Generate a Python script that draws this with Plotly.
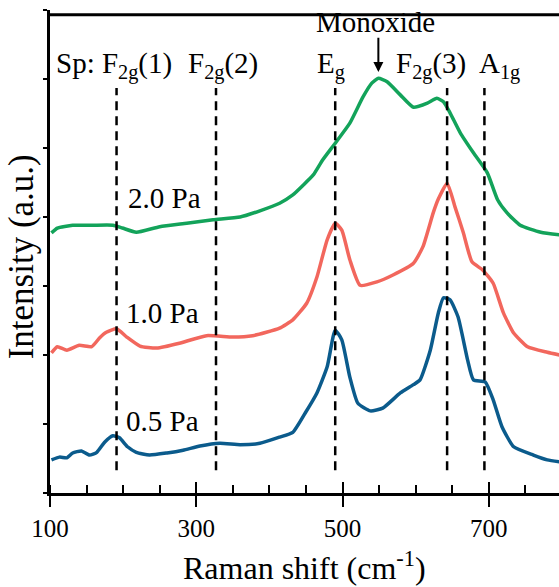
import plotly.graph_objects as go

# Raman spectra of films deposited at three pressures (offset for clarity)
x_05 = [102, 113, 123, 131, 143, 154, 164, 175, 186, 195, 206, 218, 236, 260, 282, 305, 332, 360,
        387, 414, 432, 449, 465, 479, 490, 499, 510, 521, 538, 555, 579, 597, 606, 620, 631, 638,
        647, 658, 671, 679, 695, 706, 718, 734, 761, 780, 797]
y_05 = [0.48, 0.52, 0.51, 0.58, 0.61, 0.55, 0.59, 0.74, 0.83, 0.80, 0.67, 0.59, 0.55, 0.58, 0.62,
        0.68, 0.72, 0.70, 0.72, 0.81, 0.88, 1.16, 1.45, 1.83, 2.36, 2.22, 1.68, 1.30, 1.19, 1.23,
        1.45, 1.57, 1.64, 2.07, 2.61, 2.83, 2.80, 2.55, 1.93, 1.64, 1.61, 1.35, 0.96, 0.67, 0.55,
        0.48, 0.45]

x_10 = [102, 110, 123, 140, 157, 168, 177, 191, 205, 223, 246, 277, 314, 350, 377, 414, 432, 451,
        465, 479, 490, 499, 510, 524, 547, 569, 597, 610, 624, 631, 643, 654, 665, 677, 692, 706,
        720, 734, 753, 780, 797]
y_10 = [2.03, 2.12, 2.07, 2.14, 2.12, 2.25, 2.33, 2.38, 2.26, 2.13, 2.10, 2.17, 2.28, 2.26, 2.28,
        2.39, 2.51, 2.75, 3.13, 3.67, 3.91, 3.81, 3.38, 3.01, 3.06, 3.16, 3.33, 3.57, 4.06, 4.26,
        4.49, 4.14, 3.78, 3.35, 3.23, 3.04, 2.61, 2.32, 2.12, 2.04, 2.00]

x_20 = [102, 110, 131, 158, 186, 199, 218, 250, 287, 323, 360, 387, 414, 432, 446, 460, 473, 490,
        510, 528, 540, 549, 561, 579, 597, 616, 629, 638, 647, 661, 679, 698, 712, 725, 743, 771, 797]
y_20 = [3.77, 3.84, 3.88, 3.88, 3.88, 3.84, 3.78, 3.86, 3.91, 3.96, 4.00, 4.09, 4.20, 4.32, 4.46,
        4.61, 4.83, 5.07, 5.36, 5.74, 5.94, 6.01, 5.96, 5.77, 5.59, 5.65, 5.72, 5.67, 5.51, 5.22,
        4.93, 4.64, 4.25, 4.06, 3.88, 3.78, 3.74]

series_names = ["0.5 Pa", "1.0 Pa", "2.0 Pa"]
series_colors = ["#0b5b8c", "#f2675d", "#13a35a"]
label_pos = [(254, 1.04), (254, 2.61), (257, 4.28)]

# Spinel mode positions and labels
mode_x = [191, 327, 490, 643, 694]
mode_labels = ["Sp: F<sub>2g</sub>(1)", "F<sub>2g</sub>(2)", "E<sub>g</sub>",
               "F<sub>2g</sub>(3)", "A<sub>1g</sub>"]
mode_label_x = [105, 336, 484, 621, 714]
monoxide_x = 549

X_RANGE = [100, 796]
Y_RANGE = [0, 7]

SERIF = "Liberation Serif, Times New Roman, serif"

fig = go.Figure()

for xs, ys, name, col in zip([x_05, x_10, x_20], [y_05, y_10, y_20], series_names, series_colors):
    fig.add_trace(go.Scatter(x=xs, y=ys, mode="lines", name=name,
                             line=dict(color=col, width=3.5, shape="spline", smoothing=0.5),
                             showlegend=False, hoverinfo="skip"))

# dashed reference lines at the mode positions
for mx in mode_x:
    fig.add_shape(type="line", x0=mx, x1=mx, y0=0.33, y1=5.87, xref="x", yref="y",
                  line=dict(color="black", width=2.5, dash="9px,6px"))

# top frame line
fig.add_shape(type="line", x0=0, x1=1, y0=0.99, y1=0.99, xref="paper", yref="paper",
              layer="above", line=dict(color="black", width=3))

for i, (txt, lx) in enumerate(zip(mode_labels, mode_label_x)):
    fig.add_annotation(x=lx, y=6.2, text=txt, showarrow=False, xref="x", yref="y",
                       xanchor="left" if i == 0 else "center", yanchor="middle",
                       font=dict(family=SERIF, size=29, color="black"))

for (lx, ly), name in zip(label_pos, series_names):
    fig.add_annotation(x=lx, y=ly, text=name, showarrow=False, xref="x", yref="y",
                       font=dict(family=SERIF, size=29, color="black"))

fig.add_annotation(x=monoxide_x, y=6.1, ax=monoxide_x, ay=6.62, xref="x", yref="y",
                   axref="x", ayref="y", text="", showarrow=True, arrowhead=2,
                   arrowsize=1, arrowwidth=2, arrowcolor="black")
fig.add_annotation(x=monoxide_x - 4, y=6.83, text="Monoxide", showarrow=False, xref="x", yref="y",
                   font=dict(family=SERIF, size=29, color="black"))

# axis titles
fig.add_annotation(x=0.5, y=-0.152, xref="paper", yref="paper", showarrow=False,
                   text="Raman shift (cm<sup>-1</sup>)", yanchor="middle",
                   font=dict(family=SERIF, size=32, color="black"))
fig.add_annotation(x=-0.057, y=0.49, xref="paper", yref="paper", showarrow=False,
                   text="Intensity (a.u.)", textangle=-90, xanchor="center",
                   font=dict(family=SERIF, size=35, color="black"))

fig.update_layout(
    width=559, height=587,
    margin=dict(l=50, r=0, t=10, b=94),
    paper_bgcolor="white", plot_bgcolor="white",
    xaxis=dict(range=X_RANGE, tickvals=[100, 300, 500, 700], ticks="outside", ticklen=11,
               tickwidth=2, tickcolor="black", showline=True, linewidth=3, linecolor="black",
               showgrid=False, zeroline=False,
               tickfont=dict(family=SERIF, size=25, color="black"),
               minor=dict(dtick=50, tick0=100, ticks="inside", ticklen=8, tickwidth=2,
                          tickcolor="black", showgrid=False)),
    # overlaid axis: inward half of the major ticks
    xaxis2=dict(range=X_RANGE, overlaying="x", side="bottom", anchor="y",
                tickvals=[100, 300, 500, 700], ticks="inside",
                ticklen=11, tickwidth=2, tickcolor="black", showticklabels=False,
                showgrid=False, zeroline=False, showline=False),
    yaxis=dict(range=Y_RANGE, dtick=1, ticks="outside", ticklen=4, tickwidth=2, tickcolor="black",
               showticklabels=False, showline=True, linewidth=3, linecolor="black",
               showgrid=False, zeroline=False),
)
# invisible trace activating the overlaid axis
fig.add_trace(go.Scatter(x=[100], y=[0], xaxis="x2", mode="markers",
                         marker=dict(opacity=0), showlegend=False, hoverinfo="skip"))

fig.write_html("out.html", config={"displayModeBar": False})
